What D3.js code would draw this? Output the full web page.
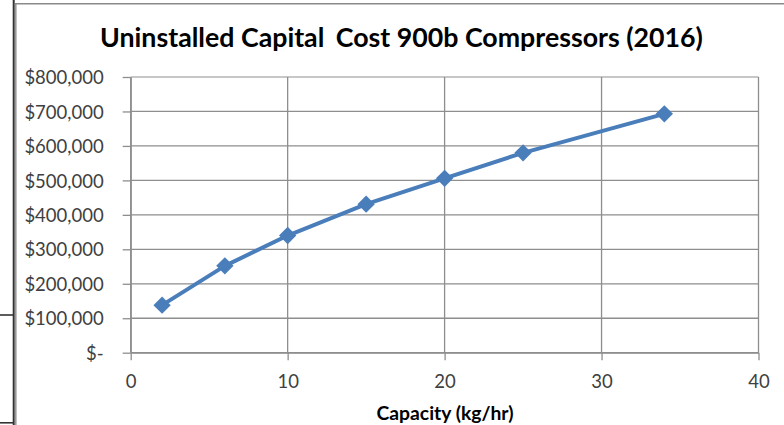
<!DOCTYPE html>
<html>
<head>
<meta charset="utf-8">
<script src="https://cdn.jsdelivr.net/npm/d3@7"></script>
<style>
  html, body { margin: 0; padding: 0; background: #fff; }
  svg { display: block; }
  text { font-family: Lato, "Open Sans", sans-serif; }
</style>
</head>
<body>
<svg id="chart" width="784" height="425"></svg>
<script>
// Capacity (kg/hr) and uninstalled capital cost (USD, 2016)
const capacity = [2, 6, 10, 15, 20, 25, 34];
const cost = [138000, 252000, 340000, 431000, 506000, 580000, 693000];
const xTicks = [0, 10, 20, 30, 40];
const yTicks = [0, 100000, 200000, 300000, 400000, 500000, 600000, 700000, 800000];
const titleParts = ["Uninstalled Capital", "Cost 900b Compressors (2016)"];
const xTitleText = "Capacity (kg/hr)";

const svg = d3.select("#chart");
const blue = "#4a7ebb";
const gridColor = "#8e8e8e";

const x = d3.scaleLinear().domain([0, 40]).range([130.7, 758.5]);
const y = d3.scaleLinear().domain([0, 800000]).range([352.7, 77]);

// surrounding frame lines
const frame = svg.append("g");
frame.append("line").attr("x1", 13.7).attr("x2", 13.7).attr("y1", 0).attr("y2", 425)
  .attr("stroke", "#333").attr("stroke-width", 2);
frame.append("line").attr("x1", 15.8).attr("x2", 15.8).attr("y1", 3).attr("y2", 425)
  .attr("stroke", "#999").attr("stroke-width", 1.6);
frame.append("line").attr("x1", 15).attr("x2", 784).attr("y1", 3.8).attr("y2", 3.8)
  .attr("stroke", "#8a8a8a").attr("stroke-width", 1.6);
frame.append("line").attr("x1", 0).attr("x2", 13).attr("y1", 315).attr("y2", 315)
  .attr("stroke", "#333").attr("stroke-width", 1.6);
frame.append("line").attr("x1", 0).attr("x2", 13).attr("y1", 422.8).attr("y2", 422.8)
  .attr("stroke", "#333").attr("stroke-width", 1.6);

// gridlines
const grid = svg.append("g");
grid.selectAll("line.h").data(yTicks).join("line")
  .attr("class", "h")
  .attr("x1", x(0)).attr("x2", x(40))
  .attr("y1", d => y(d)).attr("y2", d => y(d))
  .attr("stroke", d => d === 800000 ? "#b4b4b4" : gridColor)
  .attr("stroke-width", 1.3);
grid.selectAll("line.v").data(xTicks).join("line")
  .attr("class", "v")
  .attr("x1", d => x(d)).attr("x2", d => x(d))
  .attr("y1", y(800000)).attr("y2", y(0))
  .attr("stroke", gridColor)
  .attr("stroke-width", 1.3);

// axes
const fmt = d => d === 0 ? "$-" : "$" + d3.format(",")(d);
const yAxis = svg.append("g")
  .attr("transform", `translate(${x(0)},0)`)
  .call(d3.axisLeft(y).tickValues(yTicks).tickFormat(fmt).tickSize(8).tickSizeOuter(0).tickPadding(19));
const xAxis = svg.append("g")
  .attr("transform", `translate(0,${y(0)})`)
  .call(d3.axisBottom(x).tickValues(xTicks).tickFormat(d3.format("d")).tickSize(7.5).tickSizeOuter(0).tickPadding(14.7));
[yAxis, xAxis].forEach(g => {
  g.select(".domain").attr("stroke", gridColor).attr("stroke-width", 1.3);
  g.selectAll(".tick line").attr("stroke", gridColor).attr("stroke-width", 1.3);
  g.selectAll(".tick text").attr("fill", "#404040").style("font-size", "18.5px")
    .style("font-family", "Lato, 'Open Sans', sans-serif");
});
yAxis.selectAll(".tick text").attr("dy", "0.36em");

// data line and markers
const pts = capacity.map((c, i) => [c, cost[i]]);
svg.append("path")
  .datum(pts)
  .attr("fill", "none")
  .attr("stroke", blue)
  .attr("stroke-width", 4)
  .attr("stroke-linejoin", "round")
  .attr("d", d3.line().x(d => x(d[0])).y(d => y(d[1])));
svg.append("g").selectAll("path").data(pts).join("path")
  .attr("transform", d => `translate(${x(d[0])},${y(d[1])}) rotate(45)`)
  .attr("d", d3.symbol(d3.symbolSquare, 150))
  .attr("fill", blue);

// fit a text element to a target width by adjusting its font size
function fit(sel, target) {
  const fs = parseFloat(sel.style("font-size"));
  const w = sel.node().getComputedTextLength();
  if (w > 0) sel.style("font-size", (fs * target / w).toFixed(2) + "px");
}

const title = svg.append("text")
  .attr("x", 401.5).attr("y", 46.7)
  .attr("text-anchor", "middle")
  .style("font-weight", "bold").style("font-size", "25px")
  .attr("fill", "#000");
title.append("tspan").text(titleParts[0]);
title.append("tspan").attr("dx", 5).text(" " + titleParts[1]);
fit(title, 598);

const xTitle = svg.append("text")
  .attr("x", 445).attr("y", 420)
  .attr("text-anchor", "middle")
  .style("font-weight", "bold").style("font-size", "18px")
  .attr("fill", "#000")
  .text(xTitleText);
fit(xTitle, 137);
</script>
</body>
</html>
